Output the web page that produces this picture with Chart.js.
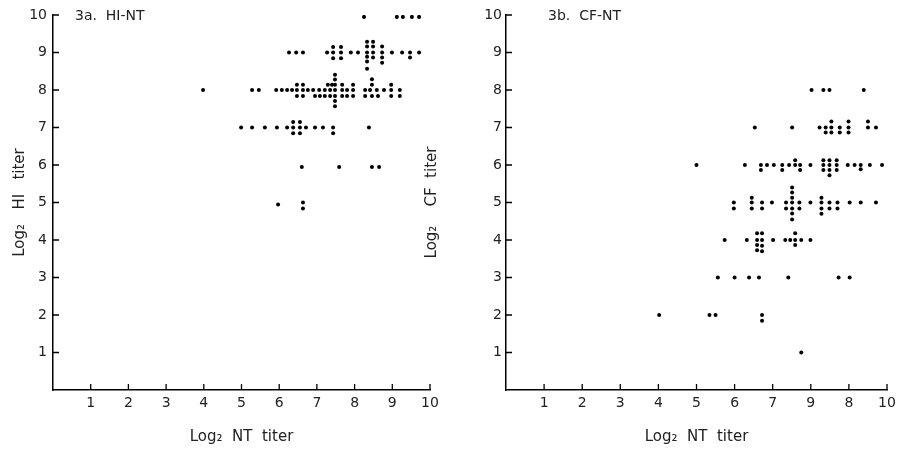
<!DOCTYPE html>
<html>
<head>
<meta charset="utf-8">
<script src="https://cdn.jsdelivr.net/npm/chart.js@4.4.1/dist/chart.umd.min.js"></script>
<style>
  body { margin: 0; background: #fff; }
  #wrap { position: relative; width: 905px; height: 449px; }
  canvas { position: absolute; top: 0; }
  #hi-chart { left: 0; }
  #cf-chart { left: 420px; }
</style>
</head>
<body>
<div id="wrap">
  <canvas id="hi-chart" width="460" height="449"></canvas>
  <canvas id="cf-chart" width="485" height="449"></canvas>
</div>
<script>
// tick labels (the CF panel really prints 9 before 8)
const hiNtLabels = ['', '1', '2', '3', '4', '5', '6', '7', '8', '9', '10']
const cfNtLabels = ['', '1', '2', '3', '4', '5', '6', '7', '9', '8', '10']
const titerLabels = ['', '1', '2', '3', '4', '5', '6', '7', '8', '9', '10']

// 3a. HI-NT, one entry per dot (log2 NT, log2 HI)
const hiNt = [
  8.25, 9.12, 9.28, 9.52, 9.71,
  6.26, 6.45, 6.63, 7.27, 7.43, 7.43, 7.43, 7.64, 7.64, 7.64, 7.90, 8.09,
  8.33, 8.33, 8.33, 8.33, 8.33, 8.33, 8.49, 8.49, 8.49, 8.49,
  8.73, 8.73, 8.73, 8.73, 8.99, 9.26, 9.47, 9.47, 9.71,
  3.98, 5.28, 5.46, 5.92, 6.07, 6.21, 6.34,
  6.47, 6.47, 6.47, 6.63, 6.63, 6.63,
  6.76, 6.90, 7.06, 7.21, 7.35, 7.67, 7.80, 7.96,
  7.29, 7.40, 7.67, 7.96,
  7.48, 7.48, 7.48, 7.48, 7.48, 7.48, 7.48,
  6.95, 7.08, 7.21, 7.35, 7.67, 7.80, 7.96,
  8.28, 8.41, 8.59, 8.78, 8.97, 9.20,
  8.46, 8.46, 8.97,
  8.28, 8.46, 8.62, 8.97, 9.20,
  4.99, 5.28, 5.62, 5.94, 6.21, 6.37, 6.37, 6.37, 6.55, 6.55, 6.55,
  6.71, 6.95, 7.16, 7.43, 7.43, 8.38,
  6.60, 7.59, 8.46, 8.65,
  5.97, 6.63, 6.63
]
const hiHi = [
  9.95, 9.95, 9.95, 9.95, 9.95,
  9, 9, 9, 9, 9.15, 9, 8.85, 9.15, 9, 8.85, 9, 9,
  9.29, 9.16, 9.0, 8.89, 8.76, 8.57, 9.29, 9.16, 9.0, 8.87,
  9.16, 9.0, 8.87, 8.73, 9, 9, 9, 8.87, 9,
  8, 8, 8, 8, 8, 8, 8,
  8.14, 8, 7.84, 8.14, 8, 7.84,
  8, 8, 8, 8, 8, 8, 8, 8,
  8.14, 8.14, 8.14, 8.14,
  8.41, 8.28, 8.14, 8, 7.84, 7.71, 7.57,
  7.84, 7.84, 7.84, 7.84, 7.84, 7.84, 7.84,
  8, 8, 8, 8, 8, 8,
  8.29, 8.14, 8.14,
  7.84, 7.84, 7.84, 7.84, 7.84,
  7, 7, 7, 7, 7, 7.15, 7, 6.85, 7.15, 7, 6.85,
  7, 7, 7, 7, 6.85, 7,
  5.95, 5.95, 5.95, 5.95,
  4.95, 5.0, 4.84
]

// 3b. CF-NT (log2 NT, log2 CF)
const cfNt = [
  8.02, 8.33, 8.49, 9.39,
  6.53, 7.51, 8.23, 8.39, 8.39, 8.54, 8.54, 8.54, 8.76, 8.76,
  8.99, 8.99, 8.99, 9.50, 9.50, 9.71,
  5.0, 6.27, 6.69, 6.69, 6.85, 7.03, 7.25, 7.25, 7.43, 7.59, 7.59,
  7.72, 7.72, 7.99, 8.33, 8.33, 8.33, 8.49, 8.49, 8.49, 8.49,
  8.68, 8.68, 8.68, 8.97, 9.15, 9.31, 9.31, 9.55, 9.87,
  5.98, 5.98, 6.45, 6.45, 6.45, 6.72, 6.72, 6.98, 7.35, 7.35,
  7.51, 7.51, 7.51, 7.51, 7.51, 7.51, 7.51,
  7.70, 7.70, 7.99, 8.28, 8.28, 8.28, 8.28, 8.49, 8.49, 8.70, 8.70,
  9.02, 9.31, 9.71,
  5.74, 6.32, 6.59, 6.59, 6.59, 6.59, 6.72, 6.72, 6.72, 6.72,
  7.01, 7.33, 7.46, 7.59, 7.59, 7.59, 7.75, 7.99,
  5.56, 6.0, 6.38, 6.64, 7.41, 8.73, 9.02,
  4.02, 5.34, 5.50, 6.72, 6.72,
  7.75
]
const cfCf = [
  8, 8, 8, 8,
  7, 7, 7, 7, 6.87, 7.16, 7, 6.87, 7, 6.87,
  7.16, 7, 6.87, 7.16, 7, 7,
  6, 6, 6, 5.87, 6, 6, 6, 5.87, 6, 6.13, 6,
  6, 5.87, 6, 6.13, 6, 5.87, 6.13, 6, 5.87, 5.73,
  6.13, 6, 5.87, 6, 6, 6, 5.89, 6, 6,
  5, 4.84, 5.13, 5, 4.84, 5, 4.84, 5, 5, 4.84,
  5.4, 5.27, 5.13, 5, 4.84, 4.71, 4.55,
  5, 4.84, 5, 5.13, 5, 4.84, 4.7, 5, 4.84, 5, 4.84,
  5, 5, 5,
  4, 4, 4.18, 4, 3.87, 3.73, 4.18, 4, 3.85, 3.7,
  4, 4, 4, 4.18, 4, 3.87, 4, 4,
  3, 3, 3, 3, 3, 3, 3,
  2, 2, 2, 2, 1.85,
  1
]

const fontFamily = '"DejaVu Sans", sans-serif'

function toPoints(xs, ys) {
  return xs.map((x, i) => ({ x: x, y: ys[i] }))
}

// short tick marks drawn inside the plot, plus the panel caption
const innerTicks = {
  id: 'innerTicks',
  afterDraw(chart, args, opts) {
    const ctx = chart.ctx
    const xs = chart.scales.x
    const ys = chart.scales.y
    ctx.save()
    ctx.strokeStyle = '#000'
    ctx.lineWidth = 1.3
    ctx.beginPath()
    xs.ticks.forEach(t => {
      if (t.value === 0) return
      const px = xs.getPixelForValue(t.value)
      ctx.moveTo(px, xs.top)
      ctx.lineTo(px, xs.top - 6)
    })
    ys.ticks.forEach(t => {
      if (t.value === 0) return
      const py = ys.getPixelForValue(t.value)
      ctx.moveTo(ys.right, py)
      ctx.lineTo(ys.right + 6, py)
    })
    ctx.stroke()
    ctx.fillStyle = '#222'
    ctx.font = '14px ' + fontFamily
    ctx.textBaseline = 'middle'
    ctx.fillText(opts.caption, chart.chartArea.left + opts.captionOffset, ys.getPixelForValue(10) + 1)
    ctx.restore()
  }
}

function makeConfig(points, xLabels, yTitle, yTitlePad, tickPad, yWidth, caption, captionOffset, rightPad) {
  return {
    type: 'scatter',
    data: {
      datasets: [{
        data: points,
        backgroundColor: '#000',
        borderWidth: 0,
        pointRadius: 2
      }]
    },
    options: {
      responsive: false,
      animation: false,
      devicePixelRatio: 1,
      layout: {
        padding: { top: 15, right: rightPad, left: 0, bottom: 0 }
      },
      plugins: {
        legend: { display: false },
        tooltip: { enabled: false },
        innerTicks: { caption: caption, captionOffset: captionOffset }
      },
      scales: {
        x: {
          type: 'linear',
          min: 0,
          max: 10,
          afterFit: (scale) => { scale.height = 59 },
          border: { display: true, color: '#000', width: 1.5 },
          grid: { display: false, drawTicks: false },
          ticks: {
            stepSize: 1,
            padding: 5,
            color: '#222',
            font: { family: fontFamily, size: 14 },
            callback: (value) => xLabels[value]
          },
          title: {
            display: true,
            text: 'Log₂  NT  titer',
            color: '#222',
            font: { family: fontFamily, size: 15 },
            padding: { top: 4, bottom: 3 }
          }
        },
        y: {
          type: 'linear',
          min: 0,
          max: 10,
          afterFit: (scale) => { scale.width = yWidth },
          border: { display: true, color: '#000', width: 1.5 },
          grid: { display: false, drawTicks: false },
          ticks: {
            stepSize: 1,
            padding: tickPad,
            color: '#222',
            font: { family: fontFamily, size: 14 },
            callback: (value) => titerLabels[value]
          },
          title: {
            display: true,
            text: yTitle,
            color: '#222',
            font: { family: fontFamily, size: 15 },
            padding: { top: yTitlePad, bottom: 0 }
          }
        }
      }
    },
    plugins: [innerTicks]
  }
}

const hiChart = new Chart(document.getElementById('hi-chart').getContext('2d'),
  makeConfig(toPoints(hiNt, hiHi), hiNtLabels, 'Log₂   HI   titer', 11, 6, 53, '3a.  HI-NT', 22, 30))
const cfChart = new Chart(document.getElementById('cf-chart').getContext('2d'),
  makeConfig(toPoints(cfNt, cfCf), cfNtLabels, 'Log₂    CF  titer', 3, 4, 86, '3b.  CF-NT', 42, 18))
</script>
</body>
</html>
